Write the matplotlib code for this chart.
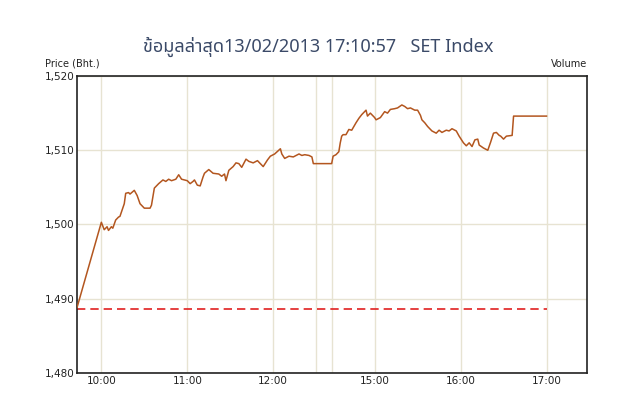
import numpy as np
import matplotlib
matplotlib.use('Agg')
import matplotlib.pyplot as plt

# SET Index intraday trace (time, index level)
times = [
    "09:43", "10:00", "10:02", "10:04", "10:05", "10:07", "10:08", "10:10",
    "10:12", "10:13", "10:16", "10:17", "10:19", "10:20", "10:23", "10:25",
    "10:27", "10:30", "10:34", "10:35", "10:37", "10:40", "10:43", "10:45",
    "10:47", "10:49", "10:52", "10:54", "10:56", "11:00", "11:02", "11:04",
    "11:05", "11:07", "11:09", "11:11", "11:12", "11:15", "11:18", "11:22",
    "11:24", "11:26", "11:27", "11:29", "11:32", "11:34", "11:36", "11:38",
    "11:41", "11:43", "11:46", "11:49", "11:51", "11:53", "11:56", "11:58",
    "12:01", "12:05", "12:06", "12:08", "12:11", "12:14", "12:18", "12:20",
    "12:22", "12:25", "12:27", "12:28",
    "14:30", "14:31", "14:33", "14:35", "14:36", "14:37", "14:38", "14:40",
    "14:42", "14:44", "14:47", "14:49", "14:51", "14:54", "14:55", "14:57",
    "15:00", "15:01", "15:04", "15:07", "15:09", "15:11", "15:14", "15:16",
    "15:19", "15:21", "15:23", "15:25", "15:28", "15:30", "15:32", "15:33",
    "15:35", "15:37", "15:40", "15:43", "15:45", "15:47", "15:50", "15:52",
    "15:54", "15:57", "15:59", "16:02", "16:04", "16:06", "16:08", "16:10",
    "16:12", "16:13", "16:16", "16:18", "16:19", "16:21", "16:23", "16:25",
    "16:27", "16:28", "16:30", "16:32", "16:36", "16:37", "17:00",
]
prices = [
    1488.8, 1500.3, 1499.3, 1499.7, 1499.2, 1499.7, 1499.5, 1500.6,
    1501.0, 1501.1, 1502.8, 1504.2, 1504.3, 1504.1, 1504.6, 1503.9,
    1502.8, 1502.2, 1502.2, 1502.6, 1504.9, 1505.5, 1506.0, 1505.8,
    1506.1, 1505.9, 1506.1, 1506.7, 1506.1, 1505.9, 1505.5, 1505.8,
    1506.0, 1505.3, 1505.2, 1506.4, 1506.9, 1507.4, 1506.9, 1506.8,
    1506.5, 1506.8, 1505.9, 1507.3, 1507.8, 1508.3, 1508.2, 1507.7,
    1508.8, 1508.5, 1508.3, 1508.6, 1508.2, 1507.8, 1508.7, 1509.2,
    1509.5, 1510.2, 1509.5, 1508.9, 1509.2, 1509.1, 1509.5, 1509.3,
    1509.4, 1509.3, 1509.1, 1508.2,
    1508.2, 1509.2, 1509.4, 1509.8, 1511.0, 1511.9, 1512.1, 1512.1,
    1512.8, 1512.7, 1513.7, 1514.3, 1514.8, 1515.4, 1514.6, 1515.0,
    1514.4, 1514.1, 1514.4, 1515.2, 1515.0, 1515.5, 1515.6, 1515.7,
    1516.1, 1515.9, 1515.6, 1515.7, 1515.4, 1515.4, 1514.7, 1514.1,
    1513.7, 1513.2, 1512.6, 1512.3, 1512.7, 1512.4, 1512.7, 1512.6,
    1512.9, 1512.6, 1511.9, 1511.0, 1510.6, 1511.0, 1510.5, 1511.4,
    1511.5, 1510.7, 1510.3, 1510.1, 1510.0, 1511.1, 1512.3, 1512.4,
    1512.0, 1511.9, 1511.5, 1511.9, 1512.0, 1514.6, 1514.6,
]
prev_close = 1488.6

tick_times = ["10:00", "11:00", "12:00", "15:00", "16:00", "17:00"]
grid_times = ["10:00", "11:00", "12:00", "12:30", "14:30", "15:00", "16:00", "17:00"]
y_ticks = [1480, 1490, 1500, 1510, 1520]

GAP = 0.18  # width of the lunch break on the axis, in hours


def pos(hhmm):
    """Map clock time to axis position with the lunch break squeezed out."""
    h, m = hhmm.split(":")
    t = int(h) + int(m) / 60.0
    if t >= 14.5:
        t = t - 14.5 + 12.5 + GAP
    return t


x = np.array([pos(t) for t in times])

fig = plt.figure(figsize=(6.2, 4.13), dpi=100)
ax = fig.add_axes([77 / 620, 1 - 373 / 413, 510 / 620, 297 / 413])

grid_col = '#e7e3d2'
for g in grid_times:
    ax.axvline(pos(g), color=grid_col, linewidth=1, zorder=1)
for yv in y_ticks:
    ax.axhline(yv, color=grid_col, linewidth=1, zorder=1)

ax.plot([x[0], pos("17:00")], [prev_close, prev_close], color='#e02020',
        linestyle=(0, (5, 3)), linewidth=1.2, zorder=2)
ax.plot(x, prices, color='#b3561f', linewidth=1.1, zorder=3)

ax.set_xlim(pos("09:43"), 10 + 486 / 86)
ax.set_ylim(1480, 1520)
ax.set_xticks([pos(t) for t in tick_times])
ax.set_xticklabels(tick_times)
ax.set_yticks(y_ticks)
ax.set_yticklabels([f"{v:,}" for v in y_ticks])
ax.tick_params(length=0, labelsize=7.5, colors='#222222', pad=2)

for side in ax.spines.values():
    side.set_color('#222222')
    side.set_linewidth(1.2)

fig.text(45 / 620, 1 - 64 / 413, "Price (Bht.)", fontsize=7, color='#222222',
         va='center', ha='left')
fig.text(587 / 620, 1 - 64 / 413, "Volume", fontsize=7, color='#222222',
         va='center', ha='right')
fig.text(318 / 620, 1 - 47 / 413, "ข้อมูลล่าสุด13/02/2013 17:10:57   SET Index",
         fontsize=13, color='#3b4a68', ha='center', va='center',
         family=['Noto Sans Thai', 'Loma', 'Garuda', 'Tlwg Typo', 'Noto Sans', 'DejaVu Sans'])

fig.savefig('out.png', dpi=100)
plt.close(fig)
